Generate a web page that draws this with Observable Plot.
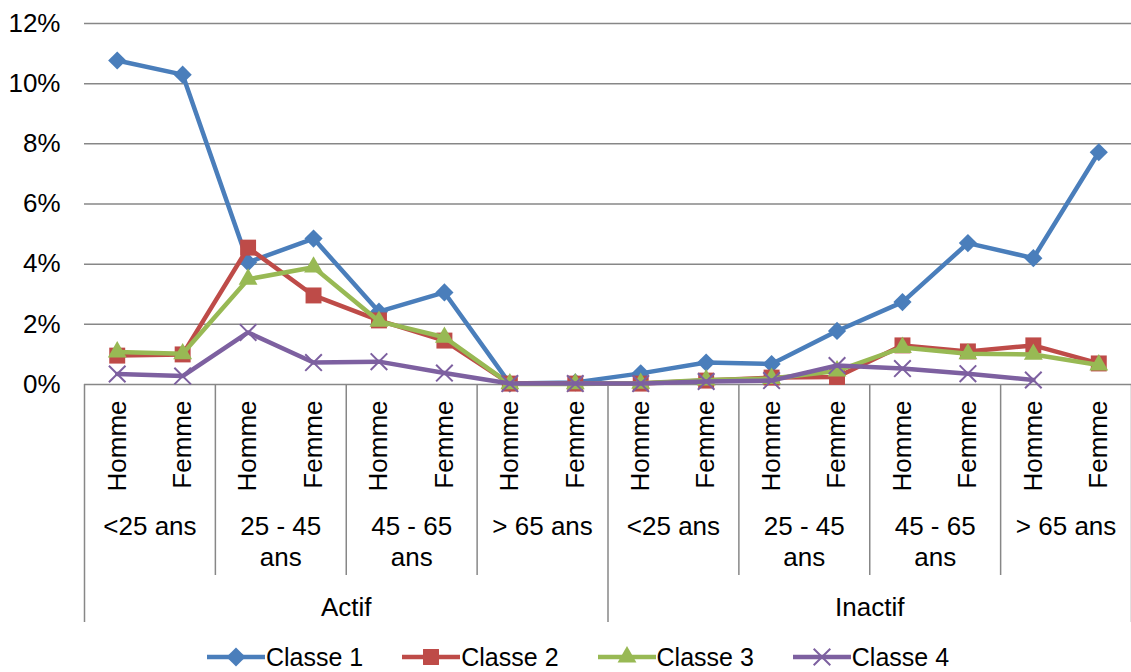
<!DOCTYPE html>
<html>
<head>
<meta charset="utf-8">
<script src="https://cdn.jsdelivr.net/npm/d3@7"></script>
<script src="https://cdn.jsdelivr.net/npm/@observablehq/plot@0.6"></script>
<style>
  html, body { margin: 0; padding: 0; background: #fff; }
  #wrap { width: 1131px; height: 672px; position: relative; overflow: hidden; font-family: "Liberation Sans", Arial, sans-serif; }
  #legend { position: absolute; left: 207px; top: 636px; height: 36px; display: flex; align-items: center; gap: 39px; }
  .item { display: flex; align-items: center; }
  .item span { font-size: 25px; line-height: 36px; color: #000; margin-left: 1px; position: relative; top: 3px; }
</style>
</head>
<body>
<div id="wrap"></div>
<script>
// ---- data (percent) ----
const sexLabels = ["Homme","Femme","Homme","Femme","Homme","Femme","Homme","Femme",
                   "Homme","Femme","Homme","Femme","Homme","Femme","Homme","Femme"];
const ageLabels = ["<25 ans","25 - 45\nans","45 - 65\nans","> 65 ans",
                   "<25 ans","25 - 45\nans","45 - 65\nans","> 65 ans"];
const statusLabels = ["Actif","Inactif"];
const seriesNames = ["Classe 1","Classe 2","Classe 3","Classe 4"];
const classe1 = [10.77, 10.3, 4.06, 4.85, 2.42, 3.06, 0.03, 0.07, 0.37, 0.73, 0.68, 1.78, 2.74, 4.7, 4.2, 7.72];
const classe2 = [0.96, 1.0, 4.55, 2.96, 2.13, 1.46, 0.03, 0.03, 0.03, 0.13, 0.23, 0.25, 1.3, 1.1, 1.3, 0.7];
const classe3 = [1.08, 1.02, 3.5, 3.9, 2.1, 1.57, 0.02, 0.02, 0.04, 0.15, 0.2, 0.45, 1.23, 1.02, 1.0, 0.65];
const classe4 = [0.35, 0.28, 1.73, 0.73, 0.76, 0.38, 0.03, 0.03, 0.03, 0.1, 0.13, 0.63, 0.53, 0.36, 0.15, null];
const yTicks = [0, 2, 4, 6, 8, 10, 12];

const colors = ["#4A7EBB", "#BE4B48", "#98B954", "#7D60A0"];
const symbols = ["diamond2", "square", "triangle", "times"];
const radii = [8.2, 9, 7, 7.6];
const allSeries = [classe1, classe2, classe3, classe4];

const cats = sexLabels.map((s, i) => ({i, s}));
const ages = ageLabels.map((a, k) => ({x: 2 * k + 0.5, a}));
const statuses = statusLabels.map((s, k) => ({x: 8 * k + 3.5, s}));
const minorSeps = [1.5, 3.5, 5.5, 9.5, 11.5, 13.5];
const majorSeps = [-0.5, 7.5, 15.5];

const seriesMarks = allSeries.flatMap((vals, k) => {
  const rows = vals.map((v, i) => ({i, v}));
  return [
    Plot.line(rows, {x: "i", y: "v", stroke: colors[k], strokeWidth: 4.5}),
    Plot.dot(rows.filter(d => d.v != null), k === 3
      ? {x: "i", y: "v", symbol: symbols[k], r: radii[k], stroke: colors[k], strokeWidth: 2, fill: "none"}
      : {x: "i", y: "v", symbol: symbols[k], r: radii[k], fill: colors[k], stroke: "none"})
  ];
});

const chart = Plot.plot({
  width: 1131,
  height: 636,
  marginLeft: 84,
  marginRight: 0,
  marginTop: 23,
  marginBottom: 252,
  style: {fontFamily: "'Liberation Sans', Arial, sans-serif", fontSize: "26px", color: "#000", background: "#fff", overflow: "visible"},
  x: {domain: [-0.5, 15.5], axis: null},
  y: {domain: [0, 12], ticks: yTicks, tickFormat: d => d + "%", tickSize: 0, tickPadding: 24, label: null},
  marks: [
    Plot.ruleY(yTicks, {stroke: "#878787", strokeWidth: 1.5}),
    Plot.ruleX(minorSeps, {x: d => d, y1: 0, y2: 0, insetBottom: -191, stroke: "#878787", strokeWidth: 1.5}),
    Plot.ruleX(majorSeps, {x: d => d, y1: 0, y2: 0, insetBottom: -238, stroke: "#878787", strokeWidth: 1.5}),
    ...seriesMarks,
    Plot.text(cats, {x: "i", text: "s", frameAnchor: "bottom", rotate: -90, textAnchor: "end", lineAnchor: "middle", dy: 16, fill: "#000", fontSize: 26}),
    Plot.text(ages, {x: "x", text: "a", frameAnchor: "bottom", lineAnchor: "top", lineHeight: 1.2, dy: 128.5, fill: "#000", fontSize: 26}),
    Plot.text(statuses, {x: "x", text: "s", frameAnchor: "bottom", lineAnchor: "middle", dy: 223, fill: "#000", fontSize: 26})
  ]
});
document.getElementById("wrap").appendChild(chart);

// ---- legend ----
const legend = document.createElement("div");
legend.id = "legend";
seriesNames.forEach((name, k) => {
  const item = document.createElement("div");
  item.className = "item";
  const svg = d3.create("svg").attr("width", 58).attr("height", 36);
  svg.append("line").attr("x1", 0).attr("x2", 58).attr("y1", 21).attr("y2", 21)
    .attr("stroke", colors[k]).attr("stroke-width", 4.5);
  const d3sym = [d3.symbolSquare, d3.symbolSquare, d3.symbolTriangle, d3.symbolTimes][k];
  const size = Math.PI * radii[k] * radii[k];
  const p = svg.append("path").attr("d", d3.symbol(d3sym, size)())
    .attr("transform", `translate(29,21)${k === 0 ? " rotate(45) scale(0.93)" : ""}`);
  if (k === 3) p.attr("fill", "none").attr("stroke", colors[k]).attr("stroke-width", 2);
  else p.attr("fill", colors[k]);
  item.appendChild(svg.node());
  const span = document.createElement("span");
  span.textContent = name;
  item.appendChild(span);
  legend.appendChild(item);
});
document.getElementById("wrap").appendChild(legend);
</script>
</body>
</html>
